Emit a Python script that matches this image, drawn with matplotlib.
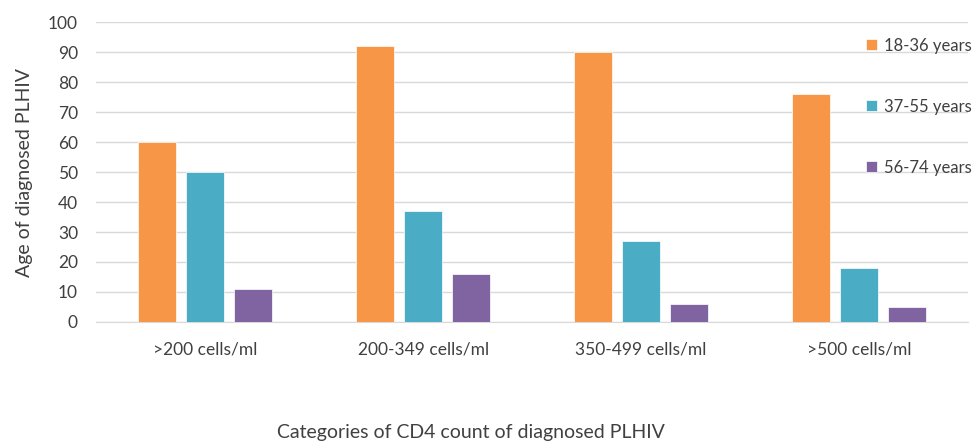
import numpy as np
import matplotlib.pyplot as plt

plt.rcParams['font.family'] = ['Lato', 'DejaVu Sans']

categories = [">200 cells/ml", "200-349 cells/ml", "350-499 cells/ml", ">500 cells/ml"]
series_names = ["18-36 years", "37-55 years", "56-74 years"]
age_18_36 = [60, 92, 90, 76]
age_37_55 = [50, 37, 27, 18]
age_56_74 = [11, 16, 6, 5]
colors = ["#F79646", "#4BACC6", "#8064A2"]

fig = plt.figure(figsize=(9.73, 4.42), dpi=100)
ax = fig.add_axes([0.0987, 0.2715, 0.8963, 0.6787])

x = np.arange(len(categories))
width = 0.175
step = 0.22
for i, (vals, name) in enumerate(zip([age_18_36, age_37_55, age_56_74], series_names)):
    ax.bar(x + (i - 1) * step, vals, width, color=colors[i], label=name,
           edgecolor="white", linewidth=0.5, zorder=3)

ax.set_xlim(-0.5, len(categories) - 0.5)
ax.set_ylim(0, 100)
ax.set_yticks(range(0, 101, 10))
ax.set_xticks(x)
ax.set_xticklabels(categories)
ax.tick_params(axis="both", length=0, labelsize=12.5, colors="#404040")
ax.tick_params(axis="x", pad=14)
ax.tick_params(axis="y", pad=13)
ax.grid(axis="y", color="#d9d9d9", linewidth=1, zorder=0)
for s in ["top", "right", "left"]:
    ax.spines[s].set_visible(False)
ax.spines["bottom"].set_color("#d9d9d9")

ax.set_ylabel("Age of diagnosed PLHIV", fontsize=14, color="#404040")
ax.yaxis.set_label_coords(-0.072, 0.5)
ax.set_xlabel("Categories of CD4 count of diagnosed PLHIV", fontsize=14, color="#404040")
ax.xaxis.set_label_coords(0.43, -0.34)

leg = ax.legend(loc="upper left", bbox_to_anchor=(0.883, 0.948), frameon=False,
                fontsize=12, handlelength=0.65, handleheight=0.65, handletextpad=0.4,
                labelspacing=2.7, borderaxespad=0, borderpad=0)
for t in leg.get_texts():
    t.set_color("#404040")

fig.savefig("out.png", dpi=100)
